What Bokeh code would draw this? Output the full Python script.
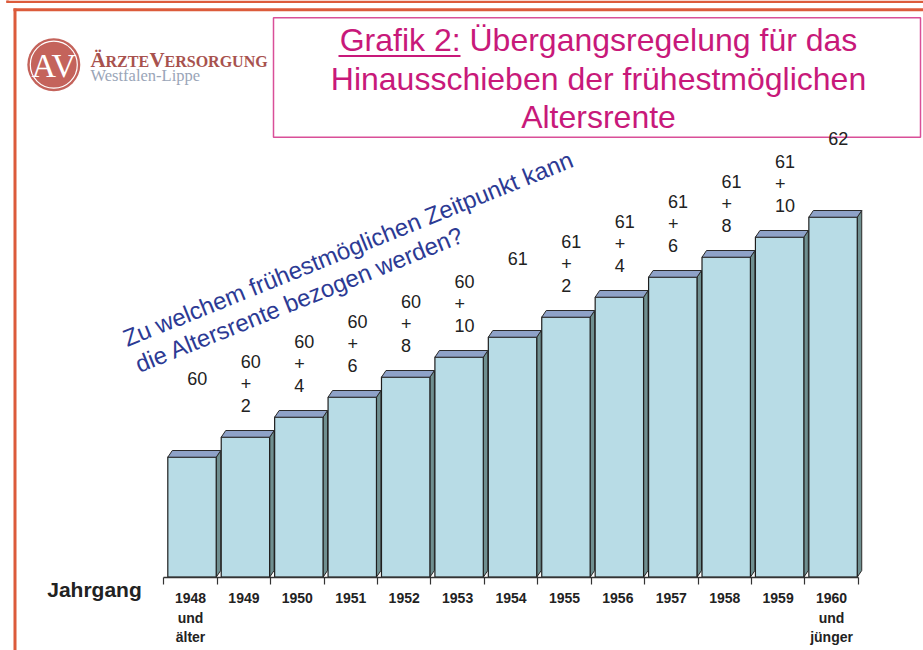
from bokeh.plotting import figure
from bokeh.models import Range1d, FixedTicker, LinearAxis, ColumnDataSource
from bokeh.core.properties import value
from bokeh.embed import file_html
from bokeh.resources import INLINE
import math

# ---------------- data ----------------
jahrgang_labels = ["1948\nund\nälter", "1949", "1950", "1951", "1952", "1953", "1954",
                   "1955", "1956", "1957", "1958", "1959", "1960\nund\njünger"]
jahrgang = [1948, 1949, 1950, 1951, 1952, 1953, 1954, 1955, 1956, 1957, 1958, 1959, 1960]
alter_jahre = [60, 60, 60, 60, 60, 60, 61, 61, 61, 61, 61, 61, 62]
alter_monate = [0, 2, 4, 6, 8, 10, 0, 2, 4, 6, 8, 10, 0]
basis_monate = 708  # floor of the value axis (59 years, in months)

werte = [j * 12 + m for j, m in zip(alter_jahre, alter_monate)]
beschriftung = [f"{j}" if m == 0 else f"{j}\n+\n{m}" for j, m in zip(alter_jahre, alter_monate)]

# ---------------- layout (pixels -> data) ----------------
W, H = 923, 650
OFF = 0
SX = 53.42   # px per Jahrgang
SY = 10.0    # px per month
X0 = 1947.5 - (163.3 - OFF) / SX
Y1 = 720 + (456.7 - OFF) / SY


def X(px):
    return X0 + (px - OFF) / SX


def Y(py):
    return Y1 - (py - OFF) / SY


p = figure(width=W, height=H, x_range=Range1d(X0, X0 + W / SX),
           y_range=Range1d(Y1 - H / SY, Y1), output_backend="svg",
           toolbar_location=None, min_border=0, x_axis_type=None, y_axis_type=None,
           outline_line_color=None, background_fill_color="white",
           border_fill_color="white")

SANS = value("Liberation Sans")
SERIF = value("Liberation Serif")

# ---------------- frame lines ----------------
ORANGE = "#dc5b3b"
p.segment(x0=[X(6), X(7)], y0=[Y(1.2), Y(-5)], x1=[X(930), X(7)], y1=[Y(1.2), Y(2.2)],
          line_color=ORANGE, line_width=2.5)
p.segment(x0=[X(13)], y0=[Y(9.3)], x1=[X(930)], y1=[Y(9.3)], line_color=ORANGE, line_width=3)
p.segment(x0=[X(14.5)], y0=[Y(8)], x1=[X(14.5)], y1=[Y(660)], line_color=ORANGE, line_width=3)

# ---------------- logo ----------------
p.scatter(x=[X(53.3)], y=[Y(64.2)], size=53, marker="circle", fill_color="#c4635b", line_color=None)
p.scatter(x=[X(53.3)], y=[Y(64.2)], size=47, marker="circle", fill_color=None,
          line_color="white", line_width=1.2)
p.text(x=[X(53.3)], y=[Y(64.5)], text=["AV"], text_align="center", text_baseline="middle",
       text_font=SERIF, text_font_size="34px", text_color="white")
LOGO_RED = "#a8524e"
base_logo = 66.7
for xpos, txt, size in [(90, "Ä", 21), (105, "RZTE", 16), (149, "V", 21), (164, "ERSORGUNG", 16)]:
    p.text(x=[X(xpos)], y=[Y(base_logo - 0.33 * size)], text=[txt], text_font=SERIF,
           text_font_style="bold", text_font_size=f"{size}px", text_color=LOGO_RED,
           text_baseline="middle")
p.text(x=[X(90)], y=[Y(80.5 - 0.33 * 16.5)], text=["Westfalen-Lippe"], text_font=SERIF,
       text_font_size="16.5px", text_color="#9aa5b8", text_baseline="middle")

# ---------------- title box ----------------
PINK = "#d94f98"
MAGENTA = "#c8197a"
p.quad(left=[X(273)], right=[X(920)], top=[Y(17.3)], bottom=[Y(136.7)],
       fill_color="white", line_color=PINK, line_width=1.5)
titel = ["Grafik 2: Übergangsregelung für das", "Hinausschieben der frühestmöglichen", "Altersrente"]
TS = 32
p.text(x=[X(598)] * 3, y=[Y(b - 0.358 * TS) for b in (51, 89.5, 127.5)], text=titel,
       text_align="center", text_baseline="middle", text_font=SANS,
       text_font_size=f"{TS}px", text_color=MAGENTA)
p.segment(x0=[X(338)], y0=[Y(55.5)], x1=[X(460)], y1=[Y(55.5)], line_color=MAGENTA, line_width=2)

# ---------------- rotated question ----------------
BLUE = "#2c3a94"
ANG = 22
FS = 24
nx, ny = -math.sin(math.radians(ANG)), -math.cos(math.radians(ANG))
sh = 0.358 * FS
starts = [(126.7, 346.7), (139, 372.7)]
p.text(x=[X(sx + nx * sh) for sx, sy in starts], y=[Y(sy + ny * sh) for sx, sy in starts],
       text=["Zu welchem frühestmöglichen Zeitpunkt kann", "die Altersrente bezogen werden?"],
       angle=ANG, angle_units="deg", text_align="left", text_baseline="middle",
       text_font=SANS, text_font_size=f"{FS}px", text_color=BLUE)

# ---------------- 3D bars ----------------
dx = 4.5 / SX
dy = 6.7 / SY
left = [x - 0.425 for x in jahrgang]
right = [x + 0.481 for x in jahrgang]

src = ColumnDataSource(dict(left=left, right=right, top=werte,
                            bottom=[basis_monate] * len(werte)))

side_xs = [[r, r + dx, r + dx, r] for r in right]
side_ys = [[basis_monate, basis_monate + dy, v + dy, v] for v in werte]
top_xs = [[l, r, r + dx, l + dx] for l, r in zip(left, right)]
top_ys = [[v, v, v + dy, v + dy] for v in werte]

p.patches(xs=side_xs, ys=side_ys, fill_color="#6f8f90", line_color="#2a2a2a", line_width=1)
p.quad(left="left", right="right", top="top", bottom="bottom", source=src,
       fill_color="#b8dce6", line_color="#1e1e1e", line_width=1.2)
p.patches(xs=top_xs, ys=top_ys, fill_color="#8ea2c8", line_color="#2a2a2a", line_width=1)

# value labels above bars
p.text(x=[x - 0.06 for x in jahrgang], y=[v + 8.5 for v in werte], text=beschriftung,
       text_align="left", text_baseline="top", text_font=SANS, text_font_size="18px",
       text_line_height=1.1, text_color="#222222")

# ---------------- x axis ----------------
grenzen = [x - 0.5 for x in jahrgang] + [jahrgang[-1] + 0.5]
ax = LinearAxis(ticker=FixedTicker(ticks=jahrgang, minor_ticks=grenzen),
                fixed_location=basis_monate, bounds=(grenzen[0], grenzen[-1]),
                major_label_overrides={x: lab for x, lab in zip(jahrgang, jahrgang_labels)})
ax.axis_line_color = "#333333"
ax.axis_line_width = 1.3
ax.major_tick_in = 0
ax.major_tick_out = 0
ax.major_tick_line_color = None
ax.minor_tick_in = 0
ax.minor_tick_out = 7
ax.minor_tick_line_color = "#333333"
ax.minor_tick_line_width = 1.2
ax.major_label_standoff = 6
ax.major_label_text_font = "Liberation Sans"
ax.major_label_text_font_style = "bold"
ax.major_label_text_font_size = "14px"
ax.major_label_text_color = "#222222"
ax.major_label_text_line_height = 1.22
p.add_layout(ax, "below")

p.text(x=[X(94)], y=[Y(588.5)], text=["Jahrgang"], text_align="center", text_baseline="middle",
       text_font=SANS, text_font_style="bold", text_font_size="21px", text_color="#222222")

open("out.html", "w").write(file_html(p, INLINE))
